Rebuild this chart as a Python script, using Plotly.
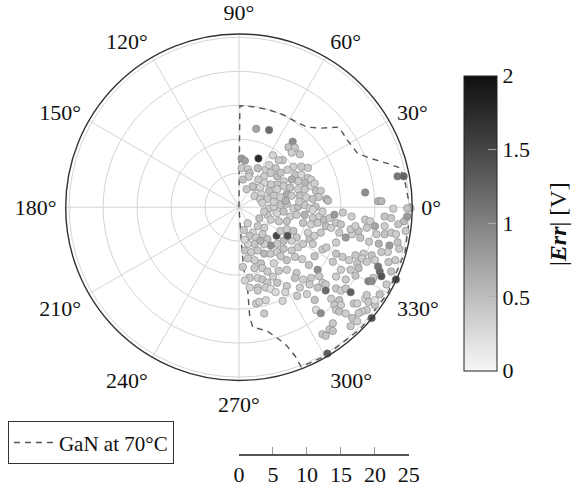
import numpy as np
import plotly.graph_objects as go

# ---------------- data ----------------
# boundary "GaN at 70°C" (radius, angle in degrees)
bound_r = [0, 14.93, 14.94, 14.99, 15.08, 15.12, 15.46, 16.82, 18.85, 18.76, 19.15, 20.59,
           23.04, 24.41, 24.72, 24.9, 25.29, 25.3, 25.3, 25.3, 25.3, 25.21, 23.44, 21.53,
           20.0, 18.67, 17.75, 16.15, 12.28, 10.25, 6.37, 2.07, 0]
bound_theta = [89.5, 89.5, 81.8, 73.4, 64.8, 56.7, 49.7, 43.8, 38.7, 31.5, 24.5, 20.5,
               16.0, 13.7, 8.8, 3.5, 0, -15, -30, -45, -60, -68.7, -69.3, -71.0,
               -73.8, -77.2, -83.5, -84.4, -84.0, -85.2, -86.1, -86.1, -86.1]

# measured error phasors: in-phase / quadrature components and |Err| [V]
err_re = [
    2.53, 4.43, 7.9, 7.29, 8.24, 7.76, 8.96, 0.39, 0.86, 2.86, 0.39, 1.33, 1.57, 2.76, 3.96,
    4.43, 5.39, 4.67, 3.71, 5.61, 8, 9.19, 8.24, 9.19, 10.14, 10.61, 9.67, 8.71, 7.76, 6.57,
    5.61, 4.67, 3.71, 4.43, 5.61, 6.57, 7.53, 8.71, 9.67, 10.61, 11.33, 12.04, 7.04, 5.14, 6.1,
    7.76, 8.96, 9.9, 4.19, 3.24, 2.29, 1.43, 2, 2.29, 3.1, 12.86, 13.1,
    18.57, 23.33, 24.24, 20.47, 20.96,
    4.43, 5.14, 6.1, 7.04, 8, 8.71, 9.67, 10.39, 4.19, 5.61, 6.57, 7.53, 8.47, 9.67, 10.86,
    11.81, 9.43, 10.61, 11.57, 12.53, 4.67, 5.86, 7.04, 3.71, 2.76, 2.04, 1.57, 2.53, 3.47, 4.19,
    5.53, 6.1, 7.04, 8, 8.47, 7.76, 6.57, 5.61, 4.67, 3.71, 2.29, 1.33, 0.86, 1.81, 2.76,
    3.71, 4.67, 5.61, 6.57, 7.76, 8.71, 9.43, 10.39, 11.1, 12.04, 12.76, 10.14, 10.86, 1.33, 2.29,
    3.24, 2.29, 3.47, 4.19, 5.14, 7.04, 8.24, 7.04, 8.47, 8.24, 9.43, 10.61, 11.57, 11.81, 12.29,
    1.57, 2.76, 3.47, 4.19, 1.57, 2.76, 3.96, 5.61, 7.04, 8.96, 10.39, 11.57, 12.76, 7.14,
    13.33, 14.04, 13.57, 14.29, 15, 14.76, 15.71, 16.67, 16.43, 17.61, 17.14, 18.57, 19.29, 18.81, 20,
    20.24, 21.43, 22.39, 21.43, 22.39, 21.43, 23.1, 24.29, 24.76, 25.24, 24.76, 24.53, 23.33, 22.14, 23.57,
    21.9, 20.96, 19.53, 18.33, 18.1, 17.14, 17.39, 16.19, 15.24, 14.29, 13.81, 15, 16.43, 17.61, 18.81,
    20, 20.47, 20.71, 19.76, 20.96, 22.39, 23.1, 19.04, 19.53, 23,
    2.76, 4.67, 5.39, 6.81, 2.53, 3, 3.96, 11.33, 12.04, 12.76, 12.29, 12.76, 13,
    14.29, 15, 15.71, 16.43, 13.57, 14.76, 14.04, 15, 14.29, 14.76, 16.9, 17.39, 18.57, 19.04, 20,
    18.81, 18.1, 17.61, 16.67, 16.43, 17.39, 13.33, 13.81, 19.53, 20, 18.81, 13.81,
    5.14, 8.86, 11.29, 12.29, 10.86, 3.71, 3, 1.29, 0.71, 0.86, 3.14, 6.14, 9.29, 10.29, 5.86,
    5, 0.57, 0.86, 11.14, 12.29,
    6.43, 7.14, 6.14, 2.86, 3.14, 11.14, 11.71, 10.86, 6.86, 3.43, 1.14, 0.57, 10.14, 5.86, 5,
    15.29, 16.57, 17.86, 19.14, 20.57, 14.29, 12.86, 17.14, 15.71, 14.29, 22, 23.43, 22.71,
    8.57, 10, 11.14, 6.43, 3.71, 15.71, 20.71, 21.71,
]
err_im = [
    11.54, 11.36, 9.64, 8.83, 8.74, 8.03, 7.79, 7.17, 6.83, 7.17, 5.74, 5.6, 5.03, 5.74, 5.5,
    6.21, 5.74, 5.03, 4.54, 4.54, 5.97, 5.97, 4.79, 4.79, 4.31, 4.07, 3.6, 3.83, 4.07, 3.83,
    3.36, 3.36, 3.6, 2.4, 2.64, 3.11, 2.89, 2.64, 2.64, 3.11, 2.4, 2.4, 1.93, 1.69, 1.46,
    1.69, 1.69, 1.46, 1.21, 1.93, 2.89, 4.5, 3.07, 1.64, 1.21, 1.21, 0.97,
    2.17, 4.54, 4.54, 0.89, 0.89,
    -0.17, 0.07, 0.31, 0.54, -0.17, 0.07, 0.31, -0.17, -1.11, -0.89, -0.64, -1.36, -1.11, -1.11, -1.6,
    -1.36, -2.31, -2.54, -2.31, -1.83, -1.83, -2.07, -2.07, -3.03, -2.79, -3.74, -4.21, -4.46, -3.97, -4.69,
    -4.21, -3.5, -3.26, -3.5, -4.46, -4.93, -4.93, -5.4, -5.64, -5.4, -5.4, -5.4, -6.36, -6.6, -6.36,
    -6.83, -6.83, -6.6, -6.11, -6.36, -5.89, -5.4, -4.69, -4.21, -3.74, -2.79, -3.74, -5.4, -7.54, -7.79,
    -8.26, -8.97, -8.97, -9.46, -8.26, -7.79, -7.31, -9.21, -9.69, -10.4, -10.64, -10.4, -9.21, -10.17, -11.11,
    -10.4, -10.4, -10.64, -11.11, -11.83, -11.83, -11.83, -11.11, -11.6, -11.83, -11.36, -11.83, -11.36, -4.21,
    -1.6, -1.11, -3.03, -2.31, -2.54, -3.74, -4.46, -3.97, -3.26, -3.5, -2.79, -1.83, -2.07, -3.03, -2.79,
    -3.97, -3.97, -3.74, -2.79, -1.6, -1.36, -3.97, -2.07, -1.36, -0.17, -0.17, -3.5, -5.17, -5.64, -6.11,
    -6.6, -6.6, -7.07, -6.83, -7.54, -7.07, -8.26, -7.79, -7.31, -6.83, -8.03, -9.21, -9.21, -8.97, -8.03,
    -7.79, -8.74, -9.46, -10.4, -10.17, -9.46, -10.64, -10.89, -10.89, -7.79,
    -12.26, -12.03, -12.5, -12.5, -14.17, -13.93, -13.69, -15.11, -15.6, -12.26, -18.69, -18.93, -21.54,
    -11.97, -12.26, -11.97, -12.5, -13.46, -13.69, -14.4, -14.4, -15.11, -15.36, -14.17, -14.17, -13.46, -13.93, -14.4,
    -15.11, -15.36, -15.6, -16.31, -17.5, -16.79, -17.97, -18.21, -16.31, -13.69, -12.93, -17.07,
    0.79, 0.79, 0.07, -0.64, -0.4, -0.64, -1.64, -2.36, -3.36, -4.79, -4.93, -7.21, -7.64, -8.5, -9.36,
    -10.21, -8.79, -10.79, -7.21, -6.21,
    6.93, 5.5, 5.07, 4.07, 2.93, 3.5, 1.5, 1.21, 0.93, 0.64, 2.64, 4.07, 5.79, 6.93, 7.64,
    -0.79, -1.36, -4.5, -5.07, -5.36, -5.21, -5.93, -10.07, -10.64, -10.21, -8.07, -2.5, -0.21,
    -13.07, -12.79, -13.64, -13.79, -15.64, -15.64, -12.79, -11.36,
]
err_abs = [
    0.7, 1.2, 0.9, 0.45, 0.4, 0.35, 0.4, 0.8, 0.75, 1.75, 0.4, 0.35, 0.45, 0.5, 0.35,
    0.3, 0.45, 0.4, 0.35, 0.5, 0.35, 0.4, 0.45, 0.3, 0.4, 0.35, 0.55, 0.4, 0.6, 0.35,
    0.45, 0.4, 0.3, 0.5, 0.35, 0.4, 0.45, 0.35, 0.4, 0.3, 0.45, 0.4, 0.65, 0.4, 0.35,
    0.4, 0.45, 0.35, 0.4, 0.3, 0.4, 0.35, 0.45, 0.35, 0.4, 0.55, 0.5,
    0.9, 1.1, 1.25, 0.6, 0.55,
    0.4, 0.35, 0.45, 0.4, 0.35, 0.5, 0.4, 0.35, 0.4, 0.3, 0.45, 0.35, 0.4, 0.6, 0.4,
    0.35, 0.45, 0.35, 0.4, 0.5, 0.35, 0.4, 0.45, 0.35, 0.4, 0.3, 0.45, 0.35, 0.4, 0.45,
    1.5, 0.4, 0.35, 0.45, 0.4, 0.35, 0.5, 0.4, 0.9, 0.35, 0.4, 0.3, 0.45, 0.35, 0.4,
    0.55, 0.4, 0.35, 0.45, 0.4, 0.35, 0.4, 0.45, 0.35, 0.4, 0.5, 0.35, 0.4, 0.4, 0.35,
    0.45, 0.4, 0.35, 0.4, 0.3, 0.45, 0.4, 0.35, 0.4, 0.45, 0.35, 0.4, 0.9, 0.4, 0.35,
    0.4, 0.35, 0.45, 0.4, 0.3, 0.4, 0.35, 0.45, 0.4, 0.35, 0.4, 0.45, 0.4, 1.4,
    0.4, 0.8, 0.35, 0.4, 0.45, 0.4, 0.8, 0.35, 0.4, 0.45, 0.35, 0.4, 0.35, 0.4, 0.7,
    0.4, 0.45, 0.4, 0.35, 0.4, 0.45, 0.35, 0.5, 0.8, 0.5, 0.45, 0.4, 0.45, 0.8, 0.4,
    0.35, 0.4, 0.45, 0.4, 0.35, 0.4, 0.45, 0.35, 0.4, 0.45, 0.4, 0.35, 0.4, 0.5, 0.4,
    0.35, 1.1, 1.2, 0.4, 1.4, 0.45, 1.5, 1.0, 0.9, 0.4,
    0.4, 0.2, 0.25, 0.3, 0.4, 0.35, 0.3, 0.25, 0.9, 1.2, 0.4, 0.45, 1.3,
    0.4, 0.35, 0.4, 1.3, 0.35, 0.45, 0.4, 0.35, 0.4, 0.45, 0.4, 0.35, 0.25, 0.4, 0.45,
    0.4, 0.35, 0.4, 0.45, 0.4, 0.35, 0.4, 0.45, 1.4, 0.2, 0.4, 0.4,
    0.35, 0.4, 0.45, 0.35, 0.3, 0.4, 0.45, 0.35, 0.4, 0.3, 0.6, 0.4, 0.35, 0.45, 0.4,
    0.35, 0.4, 0.3, 0.45, 0.4,
    0.4, 0.35, 0.45, 0.4, 0.3, 0.35, 0.4, 0.45, 0.6, 0.35, 0.4, 0.45, 0.35, 0.4, 0.3,
    0.4, 0.35, 0.45, 0.4, 0.6, 0.35, 0.4, 0.45, 0.4, 0.35, 0.4, 0.45, 0.35,
    0.4, 0.35, 0.45, 0.3, 0.4, 0.35, 0.45, 0.4,
]

angle_ticks = [0, 30, 60, 90, 120, 150, 180, 210, 240, 270, 300, 330]
angle_labels = [f"{a}°" for a in angle_ticks]
radial_ticks = [0, 5, 10, 15, 20, 25]
cbar_ticks = [0, 0.5, 1, 1.5, 2]

# ---------------- figure ----------------
re_a = np.array(err_re)
im_a = np.array(err_im)
pt_r = np.hypot(re_a, im_a)
pt_theta = np.degrees(np.arctan2(im_a, re_a))

FONT = "Liberation Serif"
W, H = 581, 487

fig = go.Figure()

fig.add_trace(go.Scatterpolar(
    r=bound_r, theta=bound_theta, mode="lines",
    line=dict(color="#555555", width=1.4, dash="6px,5px"),
    name="GaN at 70°C", showlegend=True, hoverinfo="skip",
))

fig.add_trace(go.Scatterpolar(
    r=pt_r, theta=pt_theta, mode="markers", showlegend=False,
    marker=dict(
        size=7.5, color=err_abs, cmin=0, cmax=2,
        colorscale=[[0, "#f6f7f7"], [0.25, "#bdbdbd"], [0.5, "#828282"],
                    [0.75, "#474545"], [1, "#0e1010"]],
        line=dict(color="rgba(125,125,125,0.7)", width=0.8),
        colorbar=dict(
            x=472 / W, xanchor="left", xpad=0, y=(H - 224.5) / H, yanchor="middle", ypad=0,
            len=295, lenmode="pixels", thickness=33, thicknessmode="pixels",
            outlinewidth=1, outlinecolor="#222222",
            tickvals=cbar_ticks, ticktext=[f"{v:g}" for v in cbar_ticks],
            ticks="inside", ticklen=9, tickcolor="rgba(175,175,175,0.9)",
            tickfont=dict(family=FONT, size=22, color="#111"),
        ),
    ),
    hoverinfo="skip",
))

# invisible anchor for the radial scale bar below the plot
fig.add_trace(go.Scatter(x=[radial_ticks[0], radial_ticks[-1]], y=[0, 0], mode="markers",
                         marker=dict(opacity=0), showlegend=False, hoverinfo="skip",
                         xaxis="x", yaxis="y"))

cx, cy, R = 240, 208.5, 178.5
fig.update_layout(
    width=W, height=H, autosize=False,
    margin=dict(l=0, r=0, t=0, b=0),
    paper_bgcolor="white", plot_bgcolor="white",
    font=dict(family=FONT, size=22, color="#111"),
    polar=dict(
        domain=dict(x=[(cx - R) / W, (cx + R) / W], y=[(H - cy - R) / H, (H - cy + R) / H]),
        bgcolor="white",
        radialaxis=dict(range=[0, 25.5], tickvals=radial_ticks[1:], showticklabels=False,
                        ticks="", showline=False, gridcolor="#d4d4d4", gridwidth=1),
        angularaxis=dict(tickmode="array", tickvals=angle_ticks, ticktext=angle_labels,
                         direction="counterclockwise", rotation=0,
                         ticks="outside", ticklen=4, tickcolor="rgba(0,0,0,0)",
                         showline=True, linecolor="#333333", linewidth=1.4,
                         gridcolor="#d4d4d4", gridwidth=1,
                         tickfont=dict(family=FONT, size=22, color="#111")),
    ),
    xaxis=dict(domain=[240 / W, 415 / W], range=[0, 25], showgrid=False, zeroline=False,
               showline=True, linecolor="#555555", linewidth=1.5,
               tickmode="array", tickvals=radial_ticks, ticks="inside", ticklen=7,
               tickcolor="#999999", tickfont=dict(family=FONT, size=22, color="#111"),
               fixedrange=True),
    yaxis=dict(domain=[(H - 457) / H, (H - 450) / H], visible=False, range=[0, 1],
               fixedrange=True),
    legend=dict(x=2 / W, y=(H - 424) / H, xanchor="left", yanchor="top",
                bordercolor="#333333", borderwidth=1, bgcolor="white", itemwidth=40,
                font=dict(family=FONT, size=21, color="#111")),
    annotations=[dict(text="|<b><i>Err</i></b>| [V]", textangle=-90, showarrow=False,
                      xref="paper", yref="paper", x=568 / W, y=(H - 225) / H,
                      xanchor="center", yanchor="middle",
                      font=dict(family=FONT, size=24, color="#111"))],
)

fig.write_html("out.html")
